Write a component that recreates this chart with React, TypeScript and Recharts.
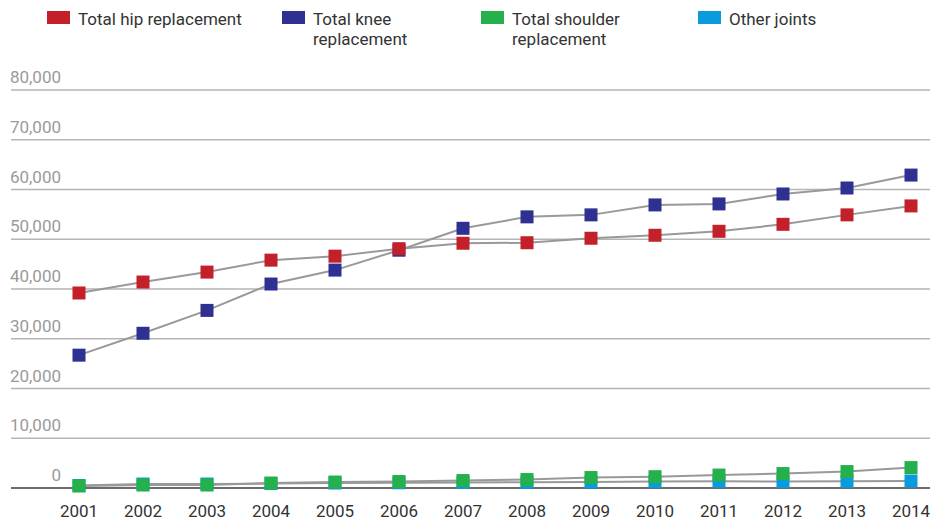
import { LineChart, Line, XAxis, YAxis, CartesianGrid } from "recharts";

const years = ["2001", "2002", "2003", "2004", "2005", "2006", "2007", "2008", "2009", "2010", "2011", "2012", "2013", "2014"];
const hip = [39200, 41400, 43400, 45800, 46600, 48100, 49200, 49300, 50200, 50800, 51600, 53000, 54900, 56700];
const knee = [26700, 31100, 35700, 41000, 43800, 47800, 52200, 54500, 54900, 56900, 57100, 59100, 60300, 62900];
const shoulder = [400, 600, 600, 1000, 1200, 1300, 1500, 1700, 2100, 2270, 2600, 2900, 3300, 4100];
const other = [500, 800, 800, 900, 1000, 1050, 1100, 1150, 1200, 1300, 1350, 1300, 1350, 1400];
const yTicks = [0, 10000, 20000, 30000, 40000, 50000, 60000, 70000, 80000];

const series = [
  { key: "hip", label: "Total hip replacement", color: "#C4202A", left: 39 },
  { key: "knee", label: "Total knee\nreplacement", color: "#2E3192", left: 274 },
  { key: "shoulder", label: "Total shoulder\nreplacement", color: "#24B04B", left: 473 },
  { key: "other", label: "Other joints", color: "#0A9BDC", left: 690 },
];

const data = years.map((year, i) => ({
  year,
  hip: hip[i],
  knee: knee[i],
  shoulder: shoulder[i],
  other: other[i],
}));

const square = (color: string) => (props: any) => {
  const { cx, cy, index } = props;
  return <rect key={`d-${color}-${index}`} x={cx - 6.5} y={cy - 6.5} width={13} height={13} fill={color} />;
};

const renderYTick = (props: any) => {
  const { y, payload, index } = props;
  return (
    <text key={`yt-${index}`} x={53} y={y - 7} textAnchor="end" fill="#9a9a9a" fontSize={17} fontFamily="Roboto">
      {Number(payload.value).toLocaleString("en-US")}
    </text>
  );
};

export default function App() {
  // draw order: other, shoulder, knee, hip (hip on top)
  const drawOrder = ["other", "shoulder", "knee", "hip"];
  return (
    <div style={{ position: "relative", width: 932, height: 518, fontFamily: "Roboto" }}>
      {series.map((s) => (
        <div key={s.key} style={{ position: "absolute", top: 0, left: s.left }}>
          <div style={{ position: "absolute", top: 3, left: 0, width: 23, height: 13, background: s.color }} />
          <div
            style={{
              position: "absolute",
              top: 1,
              left: 31,
              whiteSpace: "pre",
              fontSize: 17,
              lineHeight: "20px",
              color: "#333",
            }}
          >
            {s.label}
          </div>
        </div>
      ))}
      <LineChart
        width={932}
        height={518}
        data={data}
        margin={{ top: 82, right: 10, bottom: 0, left: 2 }}
        style={{ overflow: "visible" }}
      >
        <CartesianGrid vertical={false} stroke="#b5b5b5" strokeWidth={1.5} />
        <XAxis
          dataKey="year"
          interval={0}
          padding={{ left: 68, right: 19 }}
          height={38}
          axisLine={{ stroke: "#4d4d4d", strokeWidth: 1.5 }}
          tickLine={false}
          tickSize={0}
          tickMargin={17}
          tick={{ fill: "#333", fontSize: 17, fontFamily: "Roboto" }}
        />
        <YAxis
          width={1}
          domain={[0, 80000]}
          ticks={yTicks}
          interval={0}
          axisLine={false}
          tickLine={false}
          tick={renderYTick}
        />
        {drawOrder.map((k) => {
          const s = series.find((x) => x.key === k)!;
          return (
            <Line
              key={k}
              type="linear"
              dataKey={k}
              stroke="#999"
              strokeWidth={2}
              dot={square(s.color)}
              activeDot={false}
              isAnimationActive={false}
            />
          );
        })}
      </LineChart>
    </div>
  );
}
